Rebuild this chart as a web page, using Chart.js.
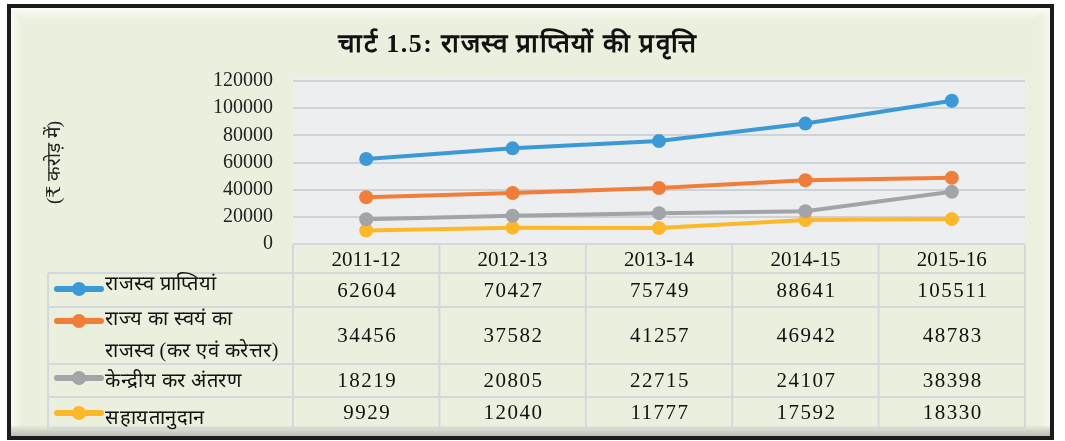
<!DOCTYPE html>
<html>
<head>
<meta charset="utf-8">
<script src="https://cdn.jsdelivr.net/npm/chart.js@4.4.1/dist/chart.umd.min.js"></script>
<style>
  html, body { margin: 0; padding: 0; background: #fff; }
  canvas { display: block; }
</style>
</head>
<body>
<canvas id="chart-1" width="1065" height="441"></canvas>
<script>
// data
const years = ['2011-12', '2012-13', '2013-14', '2014-15', '2015-16'];
const revenueReceipts = [62604, 70427, 75749, 88641, 105511];
const ownRevenue = [34456, 37582, 41257, 46942, 48783];
const centralTaxShare = [18219, 20805, 22715, 24107, 38398];
const grantsInAid = [9929, 12040, 11777, 17592, 18330];

const seriesNames = [
  ['राजस्व प्राप्तियां'],
  ['राज्य का स्वयं का', 'राजस्व (कर एवं करेत्तर)'],
  ['केन्द्रीय कर अंतरण'],
  ['सहायतानुदान']
];
const seriesColors = ['#3A9AD7', '#F07E38', '#A2A4A7', '#FDB829'];
const chartTitle = 'चार्ट 1.5: राजस्व प्राप्तियों की प्रवृत्ति';
const yAxisTitle = '(₹ करोड़ में)';

const BG = '#EBF0DE';
const serif = "'Liberation Serif', 'DejaVu Serif', serif";

// table row bands (top, bottom) under the plot
const headerRow = [245, 273];
const rows = [[273, 307], [307, 364], [364, 397], [397, 428]];
const markerY = [289, 321, 378, 413];
const labelY = [[285], [320, 352], [382], [419]];
const tableLeft = 48;

const framePlugin = {
  id: 'frame',
  beforeDraw(chart) {
    const c = chart.ctx, a = chart.chartArea;
    c.save();
    c.fillStyle = '#fff';
    c.fillRect(0, 0, chart.width, chart.height);
    c.fillStyle = BG;
    c.fillRect(9, 6, 1043, 432);
    // bevel
    let g = c.createLinearGradient(0, 8, 0, 20);
    g.addColorStop(0, '#FBFCF6'); g.addColorStop(1, BG);
    c.fillStyle = g; c.fillRect(9, 8, 1043, 12);
    g = c.createLinearGradient(0, 425, 0, 437);
    g.addColorStop(0, BG); g.addColorStop(1, '#B5B8B0');
    c.fillStyle = g; c.fillRect(9, 425, 1043, 12);
    g = c.createLinearGradient(11, 0, 22, 0);
    g.addColorStop(0, '#F8FAF1'); g.addColorStop(1, BG);
    c.fillStyle = g; c.fillRect(11, 14, 11, 412);
    g = c.createLinearGradient(1038, 0, 1050, 0);
    g.addColorStop(0, BG); g.addColorStop(1, '#F6F8EE');
    c.fillStyle = g; c.fillRect(1038, 14, 12, 412);
    c.strokeStyle = '#1B1B1B';
    c.lineWidth = 4;
    c.strokeRect(9, 6, 1043, 432);
    // plot background
    c.fillStyle = '#EDEEF0';
    c.fillRect(a.left, a.top - 3, a.right - a.left, a.bottom - a.top + 3);
    c.restore();
  },
  afterDraw(chart) {
    const c = chart.ctx, a = chart.chartArea, xs = chart.scales.x;
    const colW = (a.right - a.left) / years.length;
    c.save();
    // title
    c.fillStyle = '#111';
    c.font = 'bold 26px ' + serif;
    c.letterSpacing = '1.5px';
    c.textAlign = 'center';
    c.textBaseline = 'middle';
    c.fillText(chartTitle, 518, 45);
    c.letterSpacing = '0px';

    // table grid
    c.strokeStyle = '#D3D8DE';
    c.lineWidth = 2;
    c.beginPath();
    c.moveTo(a.left, a.bottom); c.lineTo(a.right, a.bottom);
    for (let i = 0; i <= years.length; i++) {
      const x = a.left + i * colW;
      c.moveTo(x, headerRow[0]); c.lineTo(x, rows[rows.length - 1][1]);
    }
    c.moveTo(tableLeft, rows[0][0]); c.lineTo(tableLeft, rows[rows.length - 1][1]);
    rows.forEach(r => {
      c.moveTo(tableLeft, r[0]); c.lineTo(a.right, r[0]);
    });
    const last = rows[rows.length - 1][1];
    c.moveTo(tableLeft, last); c.lineTo(a.right, last);
    c.stroke();

    // header
    c.fillStyle = '#111';
    c.font = '21px ' + serif;
    years.forEach((y, i) => {
      c.fillText(y, xs.getPixelForValue(i), (headerRow[0] + headerRow[1]) / 2 + 1);
    });

    // rows
    chart.data.datasets.forEach((ds, k) => {
      const [top, bot] = rows[k];
      c.textAlign = 'center';
      c.font = '21px ' + serif;
      c.letterSpacing = '1.5px';
      c.fillStyle = '#111';
      ds.data.forEach((v, i) => {
        c.fillText(String(v), xs.getPixelForValue(i) + 1, (top + bot) / 2 + 1);
      });
      c.letterSpacing = '0.5px';
      // legend key
      c.strokeStyle = ds.borderColor;
      c.lineWidth = 6;
      c.lineCap = 'round';
      c.beginPath();
      c.moveTo(57, markerY[k]); c.lineTo(101, markerY[k]);
      c.stroke();
      c.fillStyle = ds.borderColor;
      c.beginPath();
      c.arc(79, markerY[k], 7, 0, Math.PI * 2);
      c.fill();
      c.fillStyle = '#111';
      c.textAlign = 'left';
      c.font = '20px ' + serif;
      seriesNames[k].forEach((line, j) => c.fillText(line, 105, labelY[k][j]));
      c.letterSpacing = '0px';
    });
    c.restore();
  }
};

const allSeries = [revenueReceipts, ownRevenue, centralTaxShare, grantsInAid];

const config1 = {
  type: 'line',
  data: {
    labels: years,
    datasets: allSeries.map((d, k) => ({
      label: seriesNames[k].join(' '),
      data: d,
      borderColor: seriesColors[k],
      backgroundColor: seriesColors[k],
      borderWidth: 4,
      pointRadius: 7,
      pointBorderWidth: 0,
      pointHoverRadius: 7,
      tension: 0
    }))
  },
  options: {
    responsive: false,
    animation: false,
    events: [],
    layout: { padding: { left: 40, top: 81, right: 40, bottom: 197 } },
    plugins: {
      legend: { display: false },
      title: { display: false },
      tooltip: { enabled: false }
    },
    scales: {
      x: {
        display: false,
        offset: true
      },
      y: {
        min: 0,
        max: 120000,
        afterFit: s => { s.width = 253; },
        ticks: {
          stepSize: 20000,
          padding: 20,
          color: '#222',
          font: { family: serif, size: 20 },
          callback: v => String(v)
        },
        grid: { color: '#CDD3D9', lineWidth: 2, drawTicks: false },
        border: { display: false },
        title: {
          display: true,
          text: yAxisTitle,
          color: '#222',
          font: { family: serif, size: 19 }
        }
      }
    }
  },
  plugins: [framePlugin]
};

const ctx1 = document.getElementById('chart-1');
const chart1 = new Chart(ctx1, config1);
</script>
</body>
</html>
